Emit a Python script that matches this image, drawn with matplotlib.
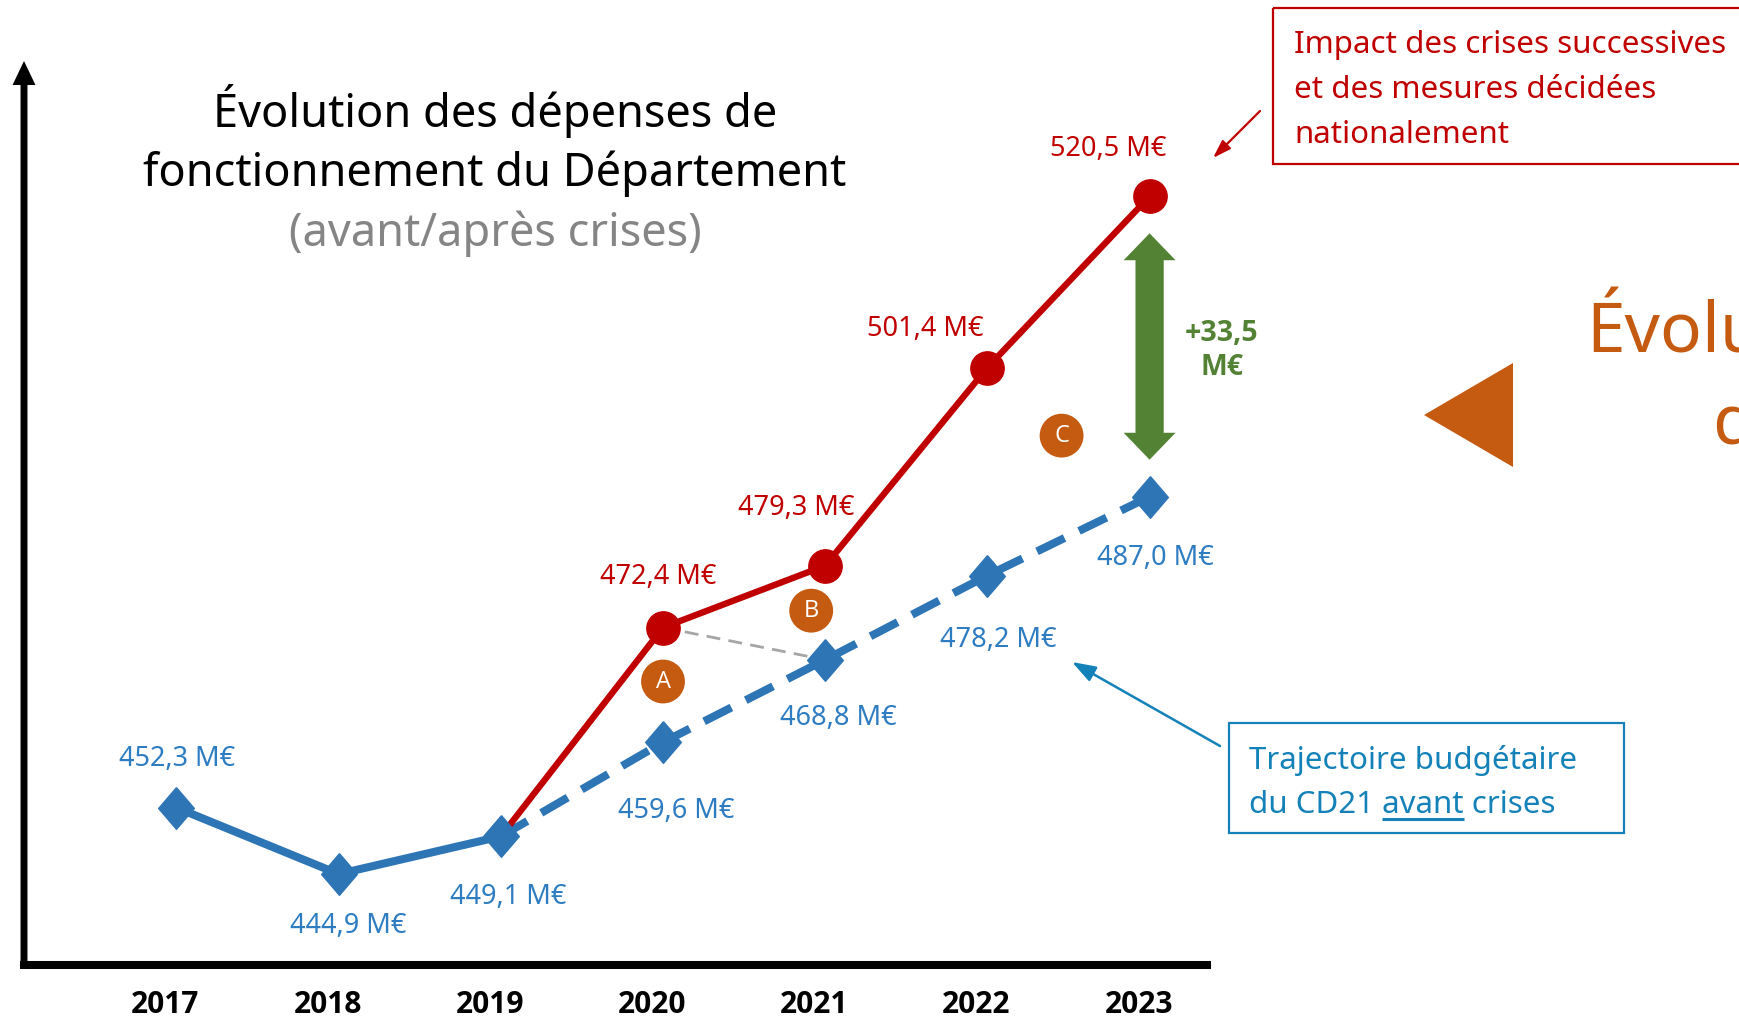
import matplotlib
matplotlib.use("Agg")
import matplotlib.pyplot as plt
from matplotlib.patches import Rectangle, Polygon
from matplotlib.transforms import ScaledTranslation
import numpy as np

plt.rcParams["font.family"] = ["Noto Sans", "DejaVu Sans"]
BOLD = ["Open Sans", "DejaVu Sans"]

# données (M€)
years = ["2017", "2018", "2019", "2020", "2021", "2022", "2023"]
avant = [452.3, 444.9, 449.1, 459.6, 468.8, 478.2, 487.0]  # trajectoire avant crises
apres_years = ["2019", "2020", "2021", "2022", "2023"]
apres = [449.1, 472.4, 479.3, 501.4, 520.5]  # réalisé / après crises
real_until = "2019"
badges = ["A", "B", "C"]

BLUE = "#2e75b6"
BLUE_TXT = "#2e7cc2"
RED = "#c00000"
GREEN = "#548235"
ORANGE = "#c55a11"
TEAL = "#1482b9"

W, H = 1740, 1021
fig = plt.figure(figsize=(W / 100, H / 100), dpi=100, facecolor="white")

# calque en pixels pour titres / encadrés
over = fig.add_axes([0, 0, 1, 1])
over.set_xlim(0, W)
over.set_ylim(H, 0)
over.axis("off")

ax = fig.add_axes([24 / W, 56 / H, (1207 - 24) / W, (965 - 61) / H])
ax.patch.set_visible(False)

x = np.arange(len(years))
xa = np.array([years.index(y) for y in apres_years])
k = years.index(real_until)

ax.set_xlim(-0.94, 6.354)
ax.set_ylim(434.75, 535.6)

# lignes
ax.plot(x[:k + 1], avant[:k + 1], color=BLUE, lw=5.8, zorder=2)
ax.plot(x[k:], avant[k:], color=BLUE, lw=5.8, ls=(0, (3.8, 2.0)), zorder=2)
ax.plot(xa, apres, color=RED, lw=4.6, zorder=3)
ax.plot([xa[1], xa[2]], [apres[1], avant[xa[2]]], color="#a6a6a6", lw=2,
        ls=(0, (5, 3)), zorder=1)

diamond = [(0, 1), (0.857, 0), (0, -1), (-0.857, 0), (0, 1)]
ax.plot(x, avant, ls="none", marker=diamond, ms=30, color=BLUE, zorder=4)
ax.plot(xa[1:], apres[1:], ls="none", marker="o", ms=24, color=RED, zorder=5)

def fmt(v):
    return f"{v:.1f}".replace(".", ",") + " M€"

blue_off = [(1, 52), (10, -49), (7, -58), (13, -66), (13, -55), (11, -61), (6, -58)]
red_off = [(-5, 54), (-29, 61), (-62, 42), (-41, 50)]
for xi, v, (dx, dy) in zip(x, avant, blue_off):
    ax.annotate(fmt(v), (xi, v), xytext=(dx, dy - 10), textcoords="offset pixels",
                ha="center", va="baseline", fontsize=19.5, color=BLUE_TXT, zorder=6)
for xi, v, (dx, dy) in zip(xa[1:], apres[1:], red_off):
    ax.annotate(fmt(v), (xi, v), xytext=(dx, dy - 10), textcoords="offset pixels",
                ha="center", va="baseline", fontsize=19.5, color=RED, zorder=6)

# pastilles A B C
badge_ref = [(xa[1], apres[1]), (xa[2], apres[2]), (x[-1], avant[-1])]
badge_off = [(0, -54), (-14, -45), (-88, 61)]
for lab, ref, off in zip(badges, badge_ref, badge_off):
    ax.annotate(lab, ref, xytext=off, textcoords="offset pixels", ha="center",
                va="center", fontsize=17, color="white", zorder=7, family=BOLD,
                bbox=dict(boxstyle="circle,pad=0.42", fc=ORANGE, ec="none"))

# écart 2023 : double flèche (deux flèches superposées)
head_pt = 19.5
for start, end in ((avant[-1], apres[-1]), (apres[-1], avant[-1])):
    ax.annotate("", xy=(x[-1], end), xytext=(x[-1], start),
                arrowprops=dict(arrowstyle="simple,head_length=0.97,head_width=1.87,tail_width=1.0",
                                mutation_scale=20, fc=GREEN, ec="none", lw=0,
                                shrinkA=26.6 + head_pt, shrinkB=26.6))
mid = (apres[-1] + avant[-1]) / 2
gap = apres[-1] - avant[-1]
ax.annotate("+" + f"{gap:.1f}".replace(".", ",") + "\nM€", (x[-1], mid), xytext=(72, -4),
            textcoords="offset pixels", ha="center", va="center", fontsize=20.5,
            fontweight="bold", family=BOLD, color=GREEN, linespacing=1.25)

# axes
for s in ["top", "right", "left"]:
    ax.spines[s].set_visible(False)
ax.spines["bottom"].set_linewidth(5.8)
ax.spines["bottom"].set_color("black")
ax.annotate("", xy=(0, 1), xytext=(0, 0), xycoords="axes fraction",
            arrowprops=dict(arrowstyle="simple,head_length=1.73,head_width=1.65,tail_width=0.5",
                            mutation_scale=10, fc="black", ec="none", shrinkA=0, shrinkB=0),
            annotation_clip=False)
ax.set_yticks([])
ax.set_xticks(x, years)
ax.tick_params(axis="x", length=0, pad=18, labelsize=21.5)
for lab in ax.get_xticklabels():
    lab.set_fontweight("bold")
    lab.set_family(BOLD)
    lab.set_transform(lab.get_transform() + ScaledTranslation(-0.11, 0, fig.dpi_scale_trans))

# titre
over.text(495, 127, "Évolution des dépenses de", ha="center", va="baseline", fontsize=32.5)
over.text(495, 186, "fonctionnement du Département", ha="center", va="baseline", fontsize=32.5)
over.text(495, 246, "(avant/après crises)", ha="center", va="baseline", fontsize=32.5,
          color="#858585")

# encadré rouge
over.add_patch(Rectangle((1273, 8), 520, 156, fill=False, ec=RED, lw=1.6))
for yb, line in zip([53, 98, 143], ["Impact des crises successives",
                                    "et des mesures décidées", "nationalement"]):
    over.text(1294, yb, line, va="baseline", fontsize=22.5, color=RED)
over.annotate("", xy=(1213, 158), xytext=(1260, 111),
              arrowprops=dict(arrowstyle="-|>,head_length=0.55,head_width=0.18",
                              mutation_scale=20, color=RED, lw=1.6, shrinkA=0, shrinkB=0))

# encadré bleu
over.add_patch(Rectangle((1229, 723), 395, 110, fill=False, ec=TEAL, lw=1.6))
over.text(1249, 769, "Trajectoire budgétaire", va="baseline", fontsize=22.5, color=TEAL)
over.text(1249, 813, "du CD21 avant crises", va="baseline", fontsize=22.5, color=TEAL)
over.annotate("", xy=(1072, 662), xytext=(1220, 746),
              arrowprops=dict(arrowstyle="-|>,head_length=0.72,head_width=0.25",
                              mutation_scale=20, color=TEAL, lw=1.8, shrinkA=0, shrinkB=0))

fig.canvas.draw()
r = fig.canvas.get_renderer()

def width_px(s):
    t = over.text(0, 0, s, fontsize=22.5)
    w = t.get_window_extent(r).width
    t.remove()
    return w

x_end = 1249 + width_px("du CD21 avant")
x_start = x_end - width_px("avant")
over.plot([x_start, x_end], [819, 819], color=TEAL, lw=2.2, solid_capstyle="butt")

# titre tronqué à droite
over.add_patch(Polygon([(1424, 415), (1513, 363), (1513, 467)], closed=True, fc=ORANGE, ec="none"))
over.text(1586, 352, "Évolution", va="baseline", fontsize=50, color=ORANGE)
over.text(1712, 443, "des", va="baseline", fontsize=50, color=ORANGE)

fig.savefig("out.png", dpi=100, facecolor="white")
